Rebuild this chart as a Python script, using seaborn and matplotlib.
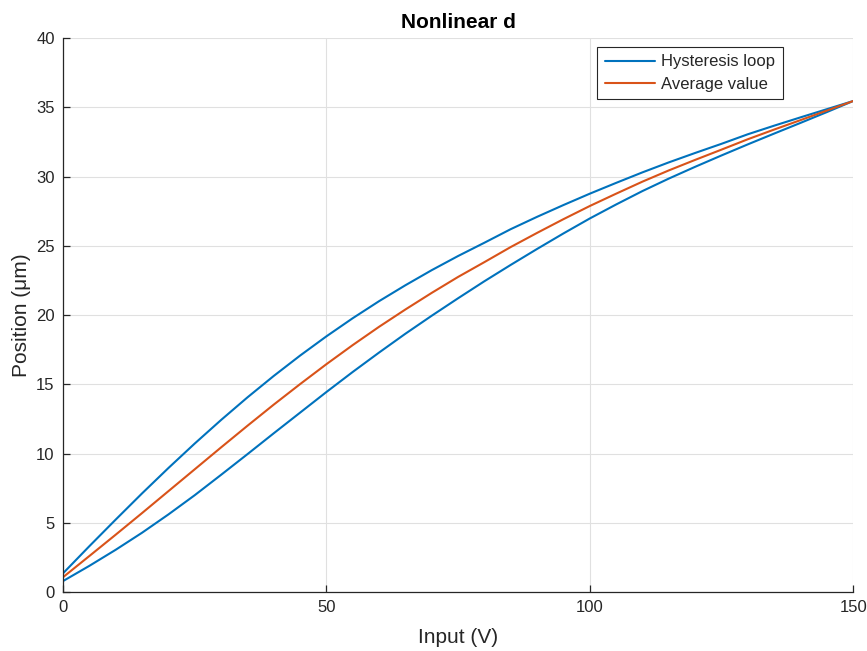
import matplotlib
matplotlib.use("Agg")
import matplotlib.pyplot as plt
import pandas as pd
import seaborn as sns

# Input voltage samples (V)
voltage = [0, 5, 10, 15, 20, 25, 30, 35, 40, 45, 50, 55, 60, 65, 70, 75,
           80, 85, 90, 95, 100, 105, 110, 115, 120, 125, 130, 135, 140, 145, 150]

# Hysteresis loop: ascending (lower) branch, in µm
ascending = [0.79, 1.89, 3.05, 4.28, 5.60, 6.99, 8.46, 9.95, 11.46, 12.95,
             14.44, 15.89, 17.29, 18.65, 19.95, 21.21, 22.44, 23.62, 24.77, 25.89,
             26.97, 27.98, 28.95, 29.85, 30.70, 31.52, 32.32, 33.10, 33.87, 34.65,
             35.45]

# Hysteresis loop: descending (upper) branch, in µm
descending = [1.35, 3.31, 5.23, 7.12, 8.95, 10.72, 12.42, 14.05, 15.60, 17.07,
              18.46, 19.77, 21.00, 22.15, 23.24, 24.26, 25.22, 26.20, 27.09, 27.94,
              28.76, 29.54, 30.30, 31.02, 31.70, 32.36, 33.05, 33.67, 34.27, 34.86,
              35.45]

# Average of the two branches, in µm
average = [1.07, 2.60, 4.14, 5.70, 7.28, 8.86, 10.44, 12.00, 13.53, 15.01,
           16.45, 17.83, 19.15, 20.40, 21.60, 22.75, 23.82, 24.91, 25.93, 26.92,
           27.87, 28.76, 29.63, 30.44, 31.20, 31.94, 32.69, 33.39, 34.07, 34.76,
           35.45]

x_ticks = [0, 50, 100, 150]
y_ticks = [0, 5, 10, 15, 20, 25, 30, 35, 40]

loop_name = "Hysteresis loop"
avg_name = "Average value"

# The loop is traced up the ascending branch and back down the descending one
loop_df = pd.DataFrame({
    "Input": voltage + voltage[::-1],
    "Position": ascending + descending[::-1],
    "series": loop_name,
})
avg_df = pd.DataFrame({"Input": voltage, "Position": average, "series": avg_name})
df = pd.concat([loop_df, avg_df], ignore_index=True)

sns.set_theme(style="whitegrid")
plt.rcParams["font.family"] = ["Liberation Sans", "DejaVu Sans"]
plt.rcParams["axes.unicode_minus"] = False

fig = plt.figure(figsize=(8.67, 6.51), dpi=100)
ax = fig.add_axes([0.0727, 0.0906, 0.9113, 0.851])

sns.lineplot(
    data=df, x="Input", y="Position", hue="series",
    palette={loop_name: "#0072BD", avg_name: "#D95319"},
    sort=False, estimator=None, linewidth=1.5, ax=ax,
)

ax.set_xlim(0, 150)
ax.set_ylim(0, 40)
ax.set_xticks(x_ticks)
ax.set_yticks(y_ticks)

ax.grid(True, color="#E0E0E0", linewidth=0.8)
ax.set_axisbelow(True)
ax.set_facecolor("white")

for side in ("top", "right"):
    ax.spines[side].set_visible(False)
for side in ("left", "bottom"):
    ax.spines[side].set_visible(True)
    ax.spines[side].set_color("#262626")
    ax.spines[side].set_linewidth(0.9)

ax.tick_params(axis="both", direction="in", length=5, width=0.9,
               colors="#262626", labelsize=12, pad=6,
               left=True, bottom=True, top=False, right=False)

ax.set_xlabel("Input (V)", fontsize=15, color="#262626", labelpad=9)
ax.set_ylabel("Position (μm)", fontsize=15, color="#262626", labelpad=4)
ax.set_title("Nonlinear d", fontsize=15, fontweight="bold", color="black", pad=7)

leg = ax.legend(loc="upper right", bbox_to_anchor=(0.911, 0.984),
                fontsize=12, frameon=True, fancybox=False, framealpha=1,
                edgecolor="#262626", borderpad=0.45, handlelength=3.0,
                handletextpad=0.4, labelspacing=0.45, borderaxespad=0)
leg.get_frame().set_linewidth(0.8)
leg.set_title(None)

fig.savefig("out.png", dpi=100, facecolor="white")
